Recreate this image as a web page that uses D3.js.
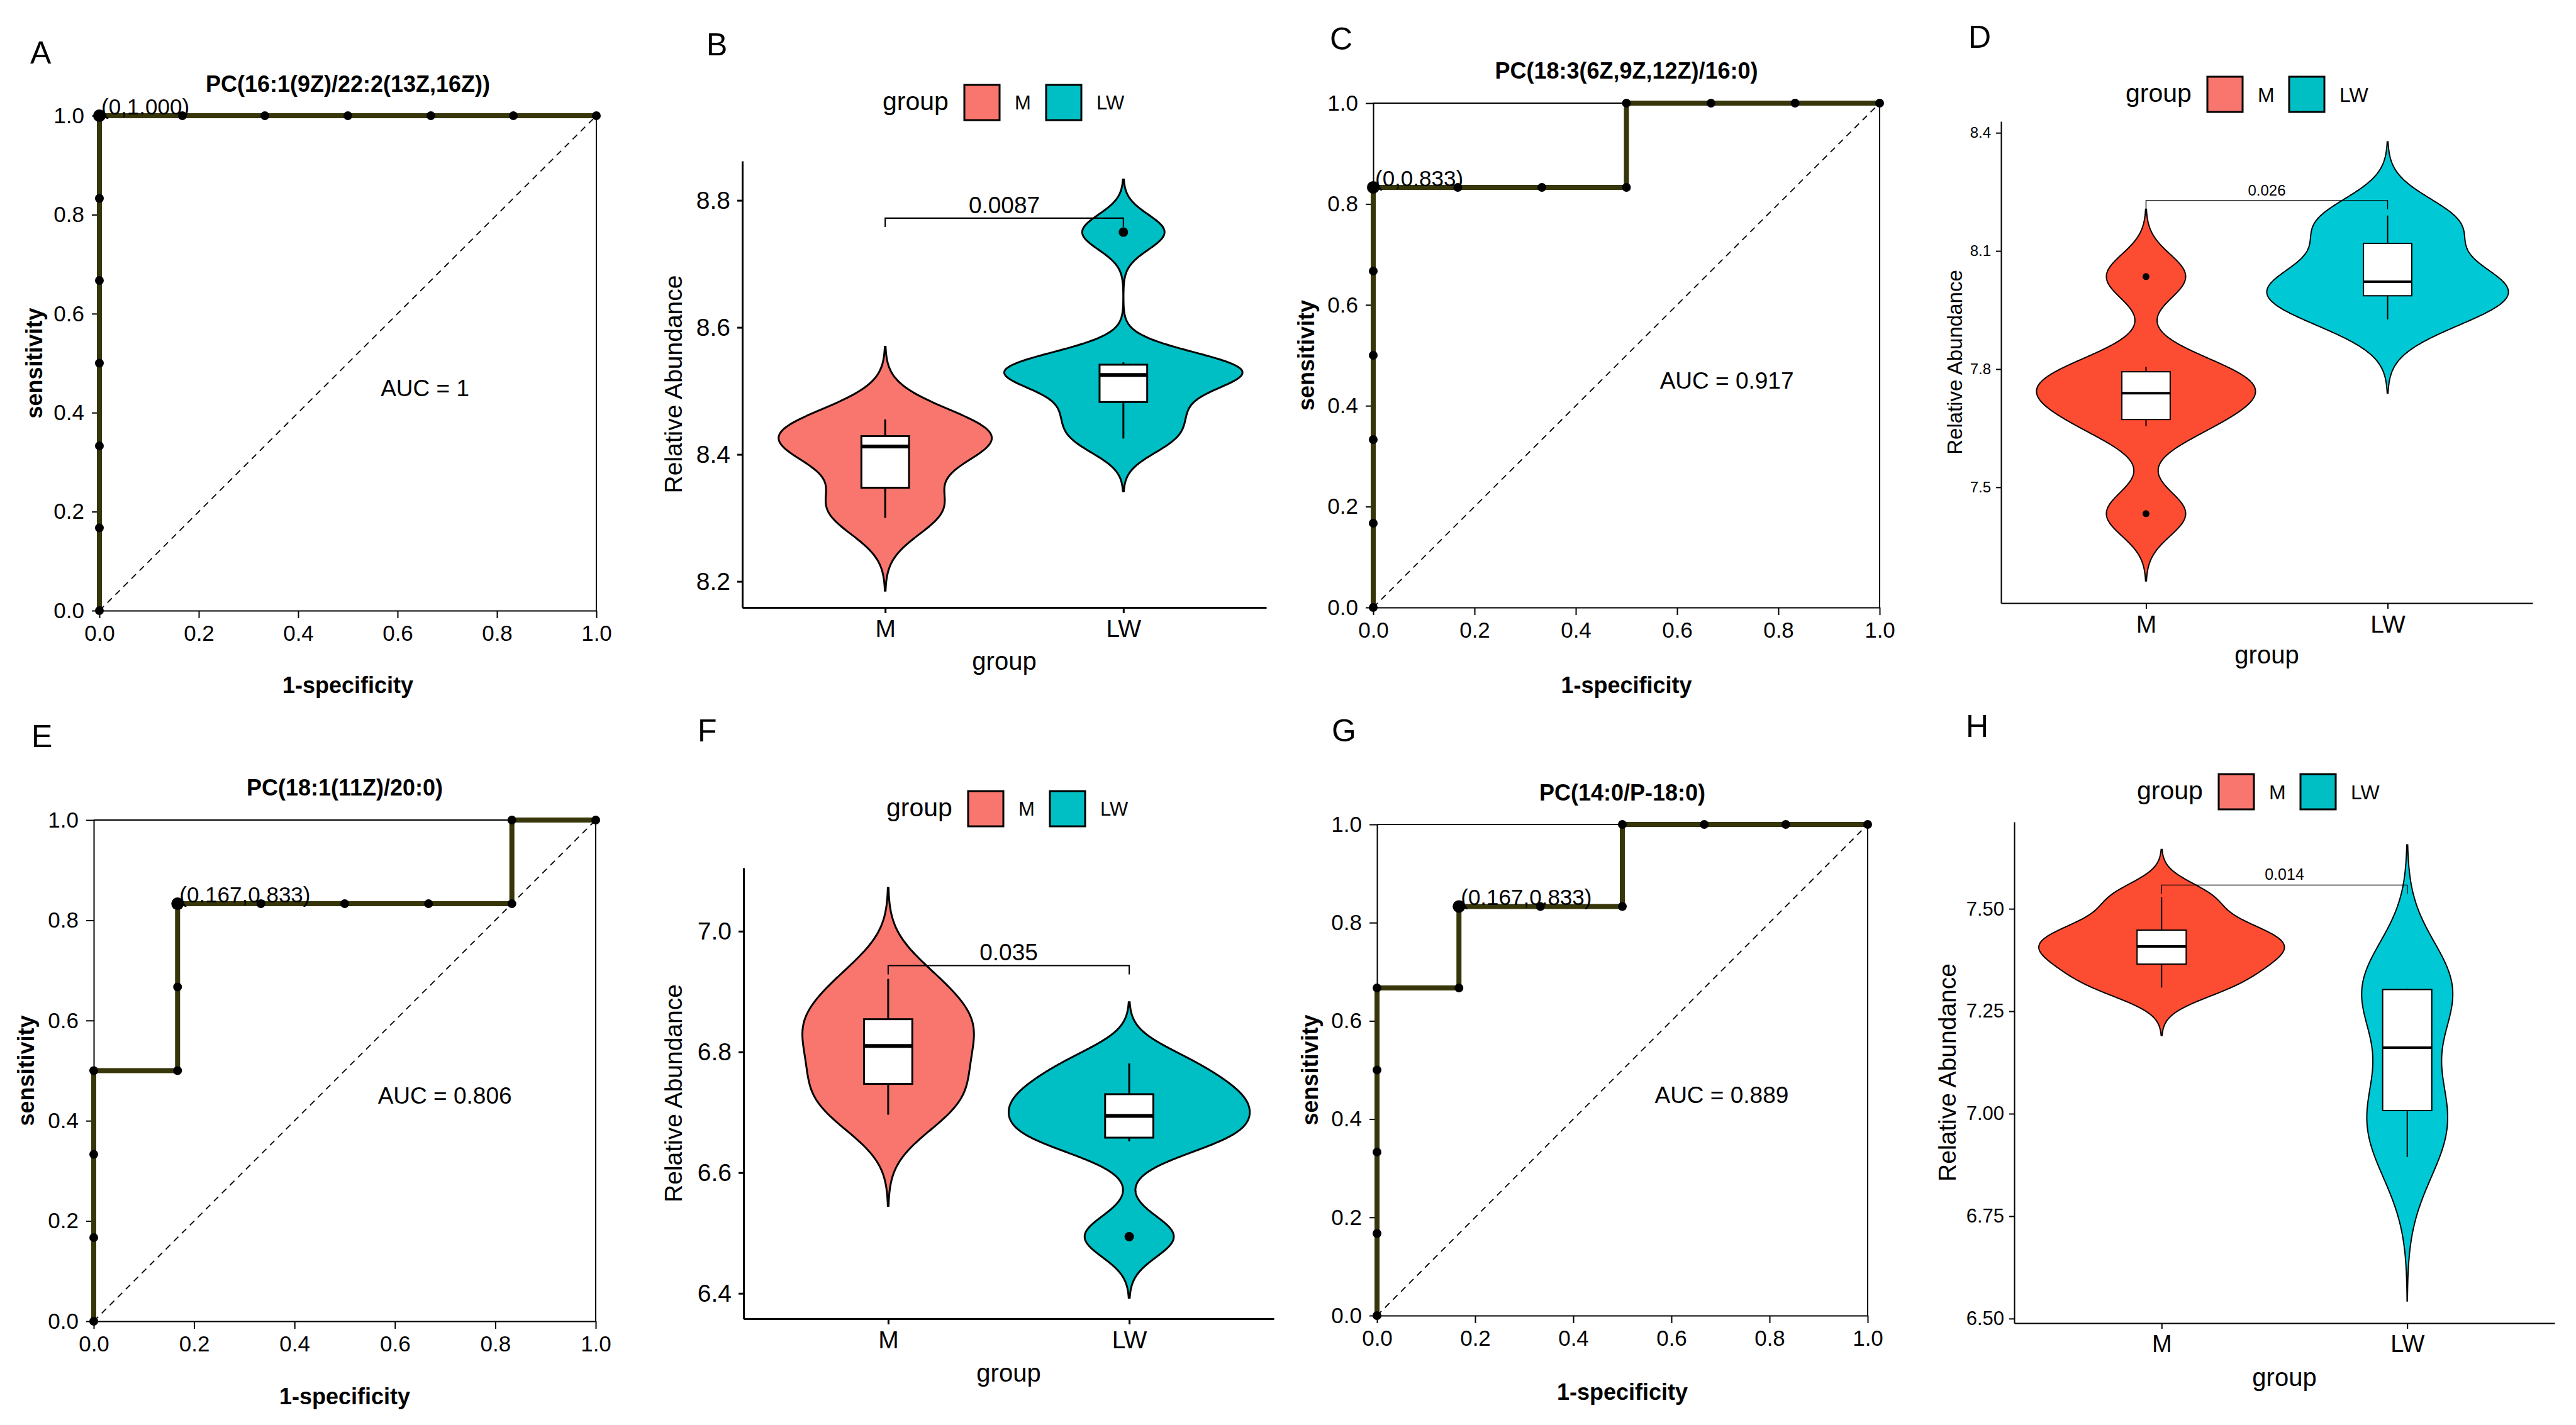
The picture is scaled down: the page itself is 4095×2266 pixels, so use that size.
<!DOCTYPE html>
<html>
<head>
<meta charset="utf-8" />
<title>ROC and violin plots</title>
<style>
    body { margin: 0; background: #fff; }
</style>
</head>
<body>
<div id="chart"></div>
<script src="https://cdn.jsdelivr.net/npm/d3@7/dist/d3.min.js"></script>
<script>
    // -------- data --------
    var groups = ["M", "LW"];

    // ROC threshold points (1-specificity, sensitivity)
    var rocA_fpr = [0, 0, 0, 0, 0, 0, 0, 0.167, 0.333, 0.5, 0.667, 0.833, 1];
    var rocA_tpr = [0, 0.167, 0.333, 0.5, 0.667, 0.833, 1, 1, 1, 1, 1, 1, 1];
    var rocC_fpr = [0, 0, 0, 0, 0, 0, 0.167, 0.333, 0.5, 0.5, 0.667, 0.833, 1];
    var rocC_tpr = [0, 0.167, 0.333, 0.5, 0.667, 0.833, 0.833, 0.833, 0.833, 1, 1, 1, 1];
    var rocE_fpr = [0, 0, 0, 0, 0.167, 0.167, 0.167, 0.333, 0.5, 0.667, 0.833, 0.833, 1];
    var rocE_tpr = [0, 0.167, 0.333, 0.5, 0.5, 0.667, 0.833, 0.833, 0.833, 0.833, 0.833, 1, 1];
    var rocG_fpr = [0, 0, 0, 0, 0, 0.167, 0.167, 0.333, 0.5, 0.5, 0.667, 0.833, 1];
    var rocG_tpr = [0, 0.167, 0.333, 0.5, 0.667, 0.667, 0.833, 0.833, 0.833, 1, 1, 1, 1];
    var rocTitles = ["PC(16:1(9Z)/22:2(13Z,16Z))", "PC(18:3(6Z,9Z,12Z)/16:0)", "PC(18:1(11Z)/20:0)", "PC(14:0/P-18:0)"];
    var rocBest = [[0, 1], [0, 0.833], [0.167, 0.833], [0.167, 0.833]];
    var rocBestLabels = ["(0,1.000)", "(0,0.833)", "(0.167,0.833)", "(0.167,0.833)"];
    var rocAuc = ["AUC = 1", "AUC = 0.917", "AUC = 0.806", "AUC = 0.889"];
    var rocTicks = [0, 0.2, 0.4, 0.6, 0.8, 1.0];

    // relative abundance per sample (6 per group)
    var B_M = [8.30, 8.33, 8.40, 8.425, 8.43, 8.455];
    var B_LW = [8.425, 8.47, 8.52, 8.53, 8.545, 8.75];
    var D_M = [7.433, 7.655, 7.723, 7.755, 7.806, 8.035];
    var D_LW = [7.926, 7.98, 8.005, 8.039, 8.146, 8.19];
    var F_M = [6.696, 6.735, 6.783, 6.837, 6.86, 6.921];
    var F_LW = [6.494, 6.652, 6.676, 6.712, 6.736, 6.781];
    var H_M = [7.308, 7.355, 7.395, 7.421, 7.457, 7.528];
    var H_LW = [6.894, 7.003, 7.022, 7.30, 7.304, 7.305];

    var pValues = ["0.0087", "0.026", "0.035", "0.014"];
    var bracketY = [8.772, 8.228, 6.943, 7.558];
    var yDomains = [[8.159, 8.862], [7.206, 8.429], [6.358, 7.105], [6.489, 7.712]];
    var yTicksB = [8.2, 8.4, 8.6, 8.8];
    var yTicksD = [7.5, 7.8, 8.1, 8.4];
    var yTicksF = [6.4, 6.6, 6.8, 7.0];
    var yTicksH = [6.50, 6.75, 7.00, 7.25, 7.50];

    // -------- drawing --------
    var font = "'Liberation Sans', Arial, Helvetica, sans-serif";
    var W = 4095, H = 2266;

    var svg = d3.select("#chart").append("svg")
        .attr("width", W)
        .attr("height", H)
        .attr("font-family", font);
    svg.append("rect").attr("width", W).attr("height", H).attr("fill", "#fff");

    function styleAxis(sel, fs, sw) {
        sel.attr("font-size", fs).attr("font-family", font);
        sel.selectAll("path.domain").attr("stroke", "#000").attr("stroke-width", sw);
        sel.selectAll(".tick line").attr("stroke", "#000").attr("stroke-width", sw);
        sel.selectAll(".tick text").attr("fill", "#000");
    }

    function panelLetter(t, x, y) {
        svg.append("text").attr("x", x).attr("y", y)
            .attr("font-size", 50).text(t);
    }

    function drawRoc(o) {
        var g = svg.append("g");
        var x = d3.scaleLinear().domain([0, 1]).range([o.left, o.right]);
        var y = d3.scaleLinear().domain([0, 1]).range([o.bottom, o.top]);
        var pts = o.fpr.map(function (f, i) { return [f, o.tpr[i]]; });

        // frame
        g.append("path")
            .attr("d", "M" + o.left + "," + o.top + "H" + o.right + "V" + o.bottom)
            .attr("fill", "none").attr("stroke", "#000").attr("stroke-width", 2);

        // reference diagonal
        g.append("line")
            .attr("x1", x(0)).attr("y1", y(0)).attr("x2", x(1)).attr("y2", y(1))
            .attr("stroke", "#000").attr("stroke-width", 1.8)
            .attr("stroke-dasharray", "10,8");

        g.append("g")
            .attr("transform", "translate(0," + o.bottom + ")")
            .call(d3.axisBottom(x).tickValues(rocTicks).tickFormat(d3.format(".1f"))
                .tickSize(12).tickSizeOuter(0).tickPadding(11))
            .call(styleAxis, 35, 2);
        g.append("g")
            .attr("transform", "translate(" + o.left + ",0)")
            .call(d3.axisLeft(y).tickValues(rocTicks).tickFormat(d3.format(".1f"))
                .tickSize(12).tickSizeOuter(0).tickPadding(12))
            .call(styleAxis, 35, 2);

        // curve
        g.append("path")
            .datum(pts)
            .attr("d", d3.line().x(function (d) { return x(d[0]); }).y(function (d) { return y(d[1]); }))
            .attr("fill", "none")
            .attr("stroke", "#36360a")
            .attr("stroke-width", 8);

        g.selectAll(".pt")
            .data(pts)
            .join("circle")
            .attr("class", "pt")
            .attr("cx", function (d) { return x(d[0]); })
            .attr("cy", function (d) { return y(d[1]); })
            .attr("r", 7)
            .attr("fill", "#000");

        g.append("circle")
            .attr("cx", x(o.best[0])).attr("cy", y(o.best[1]))
            .attr("r", 10).attr("fill", "#000");
        g.append("text")
            .attr("x", x(o.best[0]) + 3).attr("y", y(o.best[1]) - 2)
            .attr("font-size", 35).text(o.bestLabel);

        g.append("text")
            .attr("x", x(0.566)).attr("y", y(0.45)).attr("dy", "0.35em")
            .attr("font-size", 37).text(o.auc);

        var cx = (o.left + o.right) / 2;
        g.append("text")
            .attr("x", cx).attr("y", o.titleY)
            .attr("text-anchor", "middle").attr("font-size", 36).attr("font-weight", "bold")
            .text(o.title);
        g.append("text")
            .attr("x", cx).attr("y", o.xTitleY)
            .attr("text-anchor", "middle").attr("font-size", 36).attr("font-weight", "bold")
            .text("1-specificity");
        g.append("text")
            .attr("transform", "translate(" + o.yTitleX + "," + ((o.top + o.bottom) / 2) + ") rotate(-90)")
            .attr("dy", "0.35em")
            .attr("text-anchor", "middle").attr("font-size", 36).attr("font-weight", "bold")
            .text("sensitivity");
    }

    // gaussian kernel density, bandwidth as R's bw.nrd0, extended 3 bw past the data
    function kde(values) {
        var s = values.slice().sort(d3.ascending);
        var n = s.length;
        var iqr = d3.quantileSorted(s, 0.75) - d3.quantileSorted(s, 0.25);
        var bw = 0.9 * Math.min(d3.deviation(s), iqr / 1.34) * Math.pow(n, -0.2);
        var lo = s[0] - 3 * bw, hi = s[n - 1] + 3 * bw;
        return d3.range(512).map(function (i) {
            var v = lo + (hi - lo) * i / 511;
            var dens = d3.sum(s, function (a) {
                var z = (v - a) / bw;
                return Math.exp(-0.5 * z * z);
            }) / (n * bw * Math.sqrt(2 * Math.PI));
            return [v, dens];
        });
    }

    function drawViolin(o) {
        var g = svg.append("g");
        var x = d3.scaleLinear().domain([0.4, 2.6]).range([o.left, o.right]);
        var y = d3.scaleLinear().domain(o.yDomain).range([o.bottom, o.top]);
        var unit = x(2) - x(1);
        var dens = o.samples.map(kde);
        var maxD = d3.max(dens, function (d) { return d3.max(d, function (e) { return e[1]; }); });

        dens.forEach(function (d, i) {
            var pos = i + 1;
            var area = d3.area()
                .y(function (e) { return y(e[0]); })
                .x0(function (e) { return x(pos) - 0.5 * unit * e[1] / maxD; })
                .x1(function (e) { return x(pos) + 0.5 * unit * e[1] / maxD; });
            g.append("path")
                .datum(d)
                .attr("d", area)
                .attr("fill", o.fills[i])
                .attr("stroke", "#000")
                .attr("stroke-width", o.lw);
        });

        // box plots
        o.samples.forEach(function (vals, i) {
            var pos = i + 1;
            var s = vals.slice().sort(d3.ascending);
            var q1 = d3.quantileSorted(s, 0.25), med = d3.quantileSorted(s, 0.5), q3 = d3.quantileSorted(s, 0.75);
            var iqr = q3 - q1;
            var inside = s.filter(function (v) { return v >= q1 - 1.5 * iqr && v <= q3 + 1.5 * iqr; });
            var outs = s.filter(function (v) { return v < q1 - 1.5 * iqr || v > q3 + 1.5 * iqr; });
            var lo = d3.min(inside), hi = d3.max(inside);
            g.append("line").attr("x1", x(pos)).attr("x2", x(pos)).attr("y1", y(q3)).attr("y2", y(hi))
                .attr("stroke", "#000").attr("stroke-width", o.lw);
            g.append("line").attr("x1", x(pos)).attr("x2", x(pos)).attr("y1", y(q1)).attr("y2", y(lo))
                .attr("stroke", "#000").attr("stroke-width", o.lw);
            g.append("rect")
                .attr("x", x(pos - 0.1)).attr("width", x(pos + 0.1) - x(pos - 0.1))
                .attr("y", y(q3)).attr("height", y(q1) - y(q3))
                .attr("fill", "#fff").attr("stroke", "#000").attr("stroke-width", o.lw);
            g.append("line").attr("x1", x(pos - 0.1)).attr("x2", x(pos + 0.1)).attr("y1", y(med)).attr("y2", y(med))
                .attr("stroke", "#000").attr("stroke-width", o.lw * 2);
            g.selectAll(".out" + i)
                .data(outs)
                .join("circle")
                .attr("class", "out" + i)
                .attr("cx", x(pos)).attr("cy", function (v) { return y(v); })
                .attr("r", o.ptR).attr("fill", "#000");
        });

        // significance bracket
        var by = y(o.bracket);
        g.append("path")
            .attr("d", "M" + x(1) + "," + (by + 14) + "V" + by + "H" + x(2) + "V" + (by + 14))
            .attr("fill", "none").attr("stroke", "#000").attr("stroke-width", o.lw * 0.7);
        g.append("text")
            .attr("x", x(1.5)).attr("y", by - 8)
            .attr("text-anchor", "middle").attr("font-size", o.pFont)
            .text(o.p);

        // axes
        g.append("g")
            .attr("transform", "translate(0," + o.bottom + ")")
            .call(d3.axisBottom(x).tickValues([1, 2]).tickFormat(function (d) { return groups[d - 1]; })
                .tickSize(9).tickSizeOuter(0).tickPadding(10))
            .call(styleAxis, o.catFont, o.lw);
        g.append("g")
            .attr("transform", "translate(" + o.left + ",0)")
            .call(d3.axisLeft(y).tickValues(o.yTicks).tickFormat(d3.format(o.yFmt))
                .tickSize(8).tickSizeOuter(0).tickPadding(o.tickPad))
            .call(styleAxis, o.tickFont, o.lw);

        g.append("text")
            .attr("x", (o.left + o.right) / 2).attr("y", o.xTitleY)
            .attr("text-anchor", "middle").attr("font-size", 40)
            .text("group");
        g.append("text")
            .attr("transform", "translate(" + o.yTitleX + "," + ((o.top + o.bottom) / 2) + ") rotate(-90)")
            .attr("dy", "0.35em")
            .attr("text-anchor", "middle").attr("font-size", o.yTitleFont)
            .text("Relative Abundance");

        // legend
        var lg = g.append("g").attr("transform", "translate(" + o.legendX + "," + o.legendY + ")");
        lg.append("text").attr("x", 0).attr("y", 0).attr("dy", "0.3em").attr("font-size", 41).text("group");
        [130, 260].forEach(function (off, i) {
            lg.append("rect")
                .attr("x", off).attr("y", -28).attr("width", 56).attr("height", 56)
                .attr("fill", o.legendFills[i]).attr("stroke", "#000").attr("stroke-width", 3);
            lg.append("text")
                .attr("x", off + 80).attr("y", 0).attr("dy", "0.36em")
                .attr("font-size", o.legendFont).text(groups[i]);
        });
    }

    panelLetter("A", 48, 101);
    panelLetter("B", 1123, 88);
    panelLetter("C", 2114, 79);
    panelLetter("D", 3129, 76);
    panelLetter("E", 50, 1188);
    panelLetter("F", 1109, 1179);
    panelLetter("G", 2117, 1179);
    panelLetter("H", 3125, 1172);

    drawRoc({ fpr: rocA_fpr, tpr: rocA_tpr, title: rocTitles[0], best: rocBest[0], bestLabel: rocBestLabels[0], auc: rocAuc[0],
        left: 158, right: 948, top: 184, bottom: 971, titleY: 146, xTitleY: 1102, yTitleX: 54 });
    drawRoc({ fpr: rocC_fpr, tpr: rocC_tpr, title: rocTitles[1], best: rocBest[1], bestLabel: rocBestLabels[1], auc: rocAuc[1],
        left: 2183, right: 2988, top: 164, bottom: 966, titleY: 125, xTitleY: 1102, yTitleX: 2076 });
    drawRoc({ fpr: rocE_fpr, tpr: rocE_tpr, title: rocTitles[2], best: rocBest[2], bestLabel: rocBestLabels[2], auc: rocAuc[2],
        left: 149, right: 947, top: 1304, bottom: 2101, titleY: 1265, xTitleY: 2233, yTitleX: 41 });
    drawRoc({ fpr: rocG_fpr, tpr: rocG_tpr, title: rocTitles[3], best: rocBest[3], bestLabel: rocBestLabels[3], auc: rocAuc[3],
        left: 2189, right: 2969, top: 1311, bottom: 2092, titleY: 1273, xTitleY: 2226, yTitleX: 2082 });

    var pale = ["#f8766d", "#00bfc4"];
    var strong = ["#fc4c32", "#00c9d5"];

    drawViolin({ samples: [B_M, B_LW], fills: pale, legendFills: pale, yDomain: yDomains[0], yTicks: yTicksB, yFmt: ".1f",
        p: pValues[0], bracket: bracketY[0], left: 1180, right: 2013, top: 256, bottom: 966,
        xTitleY: 1065, yTitleX: 1070, legendX: 1403, legendY: 163,
        lw: 3, ptR: 7.5, tickFont: 39, tickPad: 11, catFont: 39, pFont: 37, yTitleFont: 39, legendFont: 31 });
    drawViolin({ samples: [D_M, D_LW], fills: strong, legendFills: pale, yDomain: yDomains[1], yTicks: yTicksD, yFmt: ".1f",
        p: pValues[1], bracket: bracketY[1], left: 3181, right: 4026, top: 193, bottom: 959,
        xTitleY: 1055, yTitleX: 3107, legendX: 3379, legendY: 150,
        lw: 2, ptR: 5.5, tickFont: 24, tickPad: 8, catFont: 39, pFont: 24, yTitleFont: 33, legendFont: 32 });
    drawViolin({ samples: [F_M, F_LW], fills: pale, legendFills: pale, yDomain: yDomains[2], yTicks: yTicksF, yFmt: ".1f",
        p: pValues[2], bracket: bracketY[2], left: 1182, right: 2025, top: 1380, bottom: 2097,
        xTitleY: 2197, yTitleX: 1070, legendX: 1409, legendY: 1286,
        lw: 3, ptR: 7.5, tickFont: 39, tickPad: 11, catFont: 39, pFont: 37, yTitleFont: 39, legendFont: 31 });
    drawViolin({ samples: [H_M, H_LW], fills: strong, legendFills: pale, yDomain: yDomains[3], yTicks: yTicksH, yFmt: ".2f",
        p: pValues[3], bracket: bracketY[3], left: 3202, right: 4061, top: 1307, bottom: 2104,
        xTitleY: 2204, yTitleX: 3095, legendX: 3397, legendY: 1259,
        lw: 2, ptR: 5.5, tickFont: 31, tickPad: 8, catFont: 38, pFont: 25, yTitleFont: 39, legendFont: 32 });
</script>
</body>
</html>
